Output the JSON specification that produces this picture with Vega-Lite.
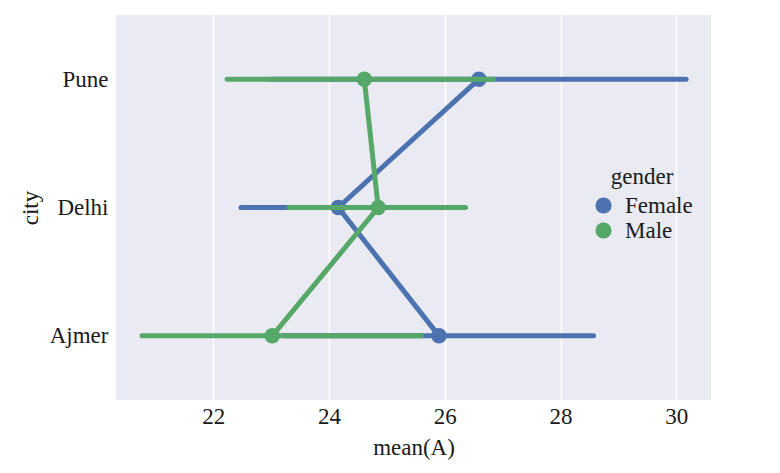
{
  "$schema": "https://vega.github.io/schema/vega-lite/v6.json",
  "width": 595,
  "height": 385,
  "autosize": "none",
  "padding": {"left": 116, "top": 15, "right": 69, "bottom": 73},
  "background": "white",
  "config": {
    "view": {"fill": "#EAEAF2", "stroke": null},
    "font": "Liberation Serif",
    "axis": {"labelFont": "Liberation Serif", "titleFont": "Liberation Serif", "labelColor": "#1a1a1a", "titleColor": "#1a1a1a"},
    "legend": {"labelFont": "Liberation Serif", "titleFont": "Liberation Serif", "labelColor": "#1a1a1a", "titleColor": "#1a1a1a"}
  },
  "data": {
    "values": [
      {"city": "Pune", "gender": "Female", "mean": 26.59, "lo": 23.0, "hi": 30.17},
      {"city": "Delhi", "gender": "Female", "mean": 24.16, "lo": 22.48, "hi": 25.9},
      {"city": "Ajmer", "gender": "Female", "mean": 25.9, "lo": 23.2, "hi": 28.57},
      {"city": "Pune", "gender": "Male", "mean": 24.61, "lo": 22.24, "hi": 26.84},
      {"city": "Delhi", "gender": "Male", "mean": 24.85, "lo": 23.31, "hi": 26.36},
      {"city": "Ajmer", "gender": "Male", "mean": 23.02, "lo": 20.77, "hi": 25.59}
    ]
  },
  "encoding": {
    "y": {
      "field": "city", "type": "nominal",
      "scale": {"type": "point", "domain": ["Pune", "Delhi", "Ajmer"], "padding": 0.5},
      "axis": {"title": "city", "grid": false, "ticks": false, "domain": false, "labelFontSize": 23, "labelPadding": 8, "titleFontSize": 23, "titleFontWeight": "normal", "titlePadding": 7}
    },
    "color": {
      "field": "gender", "type": "nominal",
      "scale": {"domain": ["Female", "Male"], "range": ["#4C72B0", "#55A868"]},
      "legend": {"orient": "none", "legendX": 476, "legendY": 151, "title": "gender", "titleFontSize": 23, "titleFontWeight": "normal", "titleAnchor": "middle", "titlePadding": 5, "labelFontSize": 23, "labelOffset": 10, "symbolType": "circle", "symbolSize": 260, "symbolStrokeWidth": 0, "symbolOpacity": 1, "rowPadding": 1, "padding": 0}
    }
  },
  "layer": [
    {
      "transform": [{"filter": "datum.gender === 'Female'"}],
      "layer": [
        {"mark": {"type": "rule", "strokeWidth": 5, "strokeCap": "round"},
         "encoding": {"x": {"field": "lo", "type": "quantitative", "scale": {"domain": [20.32, 30.6], "nice": false, "zero": false}, "axis": {"title": "mean(A)", "values": [22, 24, 26, 28, 30], "format": "d", "grid": true, "gridColor": "white", "gridWidth": 1.5, "ticks": false, "domain": false, "labelFontSize": 23, "labelPadding": 5, "titleFontSize": 23, "titleFontWeight": "normal", "titlePadding": 8}}, "x2": {"field": "hi"}}},
        {"mark": {"type": "line", "strokeWidth": 5, "strokeCap": "round"},
         "encoding": {"x": {"field": "mean", "type": "quantitative", "axis": {"title": "mean(A)"}}, "order": {"field": "city"}}},
        {"mark": {"type": "point", "filled": true, "opacity": 1, "size": 240},
         "encoding": {"x": {"field": "mean", "type": "quantitative", "axis": {"title": "mean(A)"}}}}
      ]
    },
    {
      "transform": [{"filter": "datum.gender === 'Male'"}],
      "layer": [
        {"mark": {"type": "rule", "strokeWidth": 5, "strokeCap": "round"},
         "encoding": {"x": {"field": "lo", "type": "quantitative", "axis": {"title": "mean(A)"}}, "x2": {"field": "hi"}}},
        {"mark": {"type": "line", "strokeWidth": 5, "strokeCap": "round"},
         "encoding": {"x": {"field": "mean", "type": "quantitative", "axis": {"title": "mean(A)"}}, "order": {"field": "city"}}},
        {"mark": {"type": "point", "filled": true, "opacity": 1, "size": 240},
         "encoding": {"x": {"field": "mean", "type": "quantitative", "axis": {"title": "mean(A)"}}}}
      ]
    }
  ]
}
